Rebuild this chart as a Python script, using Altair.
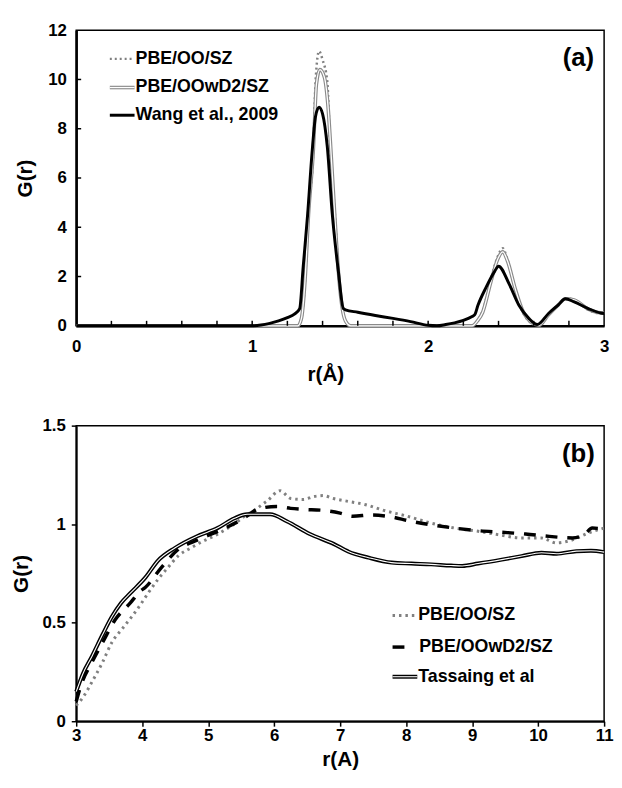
import altair as alt
import pandas as pd

# ---------------- Panel (a) data ----------------
A_R_DOT = [0, 1.26, 1.28, 1.30, 1.32, 1.348, 1.36, 1.38, 1.40, 1.427, 1.443, 1.47, 1.49, 1.51, 1.53, 1.56,
           2.25, 2.28, 2.31, 2.357, 2.395, 2.424, 2.45, 2.497, 2.535, 2.59, 2.63, 2.684, 2.74, 2.78, 2.83, 2.91, 2.96, 3.0]
A_G_DOT = [0, 0, 0.3, 1.8, 4.55, 7.26, 9.9, 11.15, 10.8, 9.9, 7.26, 4.55, 2.2, 0.8, 0.2, 0,
           0, 0.2, 0.6, 1.9, 2.8, 3.15, 2.7, 1.4, 0.6, 0.1, 0.0, 0.45, 0.85, 1.12, 1.05, 0.65, 0.52, 0.5]

A_R_DBL = [0, 1.26, 1.28, 1.30, 1.32, 1.348, 1.365, 1.385, 1.41, 1.43, 1.45, 1.47, 1.49, 1.51, 1.53, 1.56,
           2.25, 2.28, 2.31, 2.357, 2.395, 2.424, 2.45, 2.497, 2.535, 2.59, 2.63, 2.684, 2.74, 2.78, 2.83, 2.91, 2.96, 3.0]
A_G_DBL = [0, 0, 0.3, 1.8, 4.5, 7.2, 9.8, 10.4, 10.1, 9.0, 6.8, 4.4, 2.2, 0.8, 0.2, 0,
           0, 0.2, 0.55, 1.8, 2.7, 3.0, 2.65, 1.45, 0.65, 0.12, 0.02, 0.45, 0.85, 1.1, 1.05, 0.68, 0.55, 0.52]

A_R_WANG = [0, 1.0, 1.05, 1.1, 1.15, 1.2, 1.24, 1.27, 1.29, 1.315, 1.34, 1.36, 1.38, 1.40, 1.427, 1.455, 1.49,
            1.518, 1.53, 1.6, 1.7, 1.8, 1.9, 2.0, 2.05, 2.1, 2.15, 2.2, 2.25, 2.265, 2.283, 2.33, 2.377, 2.40,
            2.46, 2.516, 2.572, 2.62, 2.684, 2.74, 2.78, 2.83, 2.91, 2.98, 3.0]
A_G_WANG = [0, 0, 0.03, 0.1, 0.2, 0.33, 0.47, 0.7, 2.4, 4.5, 7.0, 8.5, 8.87, 8.6, 7.26, 4.55, 2.2,
            0.7, 0.65, 0.55, 0.42, 0.3, 0.17, 0.02, 0.0, 0.05, 0.12, 0.22, 0.38, 0.45, 0.83, 1.57, 2.2, 2.42,
            1.7, 0.83, 0.3, 0.05, 0.5, 0.85, 1.1, 0.97, 0.7, 0.52, 0.5]

A_LEGEND = ["PBE/OO/SZ", "PBE/OOwD2/SZ", "Wang et al., 2009"]
A_XTICKS = [0, 1, 2, 3]
A_MINOR = [0.2, 0.4, 0.6, 0.8, 1.0, 1.2, 1.4, 1.6, 1.8, 2.0, 2.2, 2.4, 2.6, 2.8]
A_YTICKS = [0, 2, 4, 6, 8, 10, 12]

# ---------------- Panel (b) data ----------------
B_R_DOT = [3.0, 3.1, 3.24, 3.4, 3.54, 3.7, 3.84, 3.95, 4.09, 4.24, 4.39, 4.55, 4.74, 4.9, 5.09, 5.25, 5.39, 5.55,
           5.74, 5.9, 6.09, 6.25, 6.44, 6.6, 6.74, 6.9, 7.13, 7.37, 7.66, 8.02, 8.38, 8.74, 9.09, 9.39, 9.75,
           10.05, 10.28, 10.52, 10.76, 11.0]
B_G_DOT = [0.08, 0.12, 0.2, 0.3, 0.4, 0.47, 0.53, 0.58, 0.65, 0.72, 0.78, 0.84, 0.88, 0.91, 0.94, 0.97, 1.0, 1.04,
           1.08, 1.12, 1.17, 1.13, 1.125, 1.14, 1.145, 1.13, 1.115, 1.1, 1.07, 1.04, 1.005, 0.98, 0.964, 0.947, 0.93,
           0.93, 0.905, 0.92, 0.955, 0.98]

B_R_DASH = [3.0, 3.07, 3.24, 3.4, 3.59, 3.82, 3.97, 4.05, 4.29, 4.54, 4.84, 5.19, 5.49, 5.79, 6.04, 6.25, 6.44,
            6.74, 7.0, 7.19, 7.48, 7.72, 8.08, 8.38, 8.74, 9.09, 9.45, 9.81, 10.17, 10.52, 10.7, 10.82, 11.0]
B_G_DASH = [0.1, 0.18, 0.3, 0.4, 0.515, 0.6, 0.66, 0.68, 0.78, 0.87, 0.92, 0.97, 1.02, 1.08, 1.09, 1.08, 1.075,
            1.07, 1.056, 1.04, 1.047, 1.04, 1.014, 0.997, 0.98, 0.967, 0.959, 0.95, 0.938, 0.93, 0.947, 0.98, 0.975]

B_R_TAS = [3.0, 3.1, 3.24, 3.4, 3.54, 3.68, 3.82, 4.05, 4.24, 4.5, 4.84, 5.14, 5.4, 5.59, 5.94, 6.19, 6.54, 6.9,
           7.13, 7.43, 7.78, 8.08, 8.38, 8.68, 8.85, 9.09, 9.45, 9.75, 10.05, 10.28, 10.58, 10.8, 11.0]
B_G_TAS = [0.15, 0.24, 0.33, 0.44, 0.53, 0.6, 0.65, 0.73, 0.815, 0.88, 0.94, 0.98, 1.03, 1.05, 1.05, 1.015, 0.95,
           0.9, 0.86, 0.83, 0.805, 0.8, 0.796, 0.79, 0.788, 0.8, 0.82, 0.838, 0.855, 0.85, 0.863, 0.865, 0.858]

B_LEGEND = ["PBE/OO/SZ", "PBE/OOwD2/SZ", "Tassaing et al"]
B_XTICKS = [3, 4, 5, 6, 7, 8, 9, 10, 11]
B_YTICKS = [0, 0.5, 1, 1.5]

W = 534
H = 299
FONT = "Liberation Sans"
GRAY = "#808080"
LEG_FS = 18


def df(r, g):
    return pd.DataFrame({"r": r, "g": g})


one = pd.DataFrame({"k": [0]})

# ---------------- Panel (a) ----------------
xa = alt.X("r:Q", scale=alt.Scale(domain=[0, 3], nice=False),
           axis=alt.Axis(values=A_XTICKS, ticks=False, labelPadding=13, title="r(Å)",
                         titlePadding=9, titleX=252, domainWidth=2.5))
ya = alt.Y("g:Q", scale=alt.Scale(domain=[0, 12], nice=False),
           axis=alt.Axis(values=A_YTICKS, ticks=False, labelPadding=10, title="G(r)",
                         titlePadding=12, domainWidth=2.5))

a_dot = alt.Chart(df(A_R_DOT, A_G_DOT)).mark_line(
    interpolate="monotone", color=GRAY, strokeWidth=2.5, strokeDash=[2, 3]).encode(x=xa, y=ya)
a_dbl_o = alt.Chart(df(A_R_DBL, A_G_DBL)).mark_line(
    interpolate="monotone", color="#8a8a8a", strokeWidth=3.6).encode(x=xa, y=ya)
a_dbl_i = alt.Chart(df(A_R_DBL, A_G_DBL)).mark_line(
    interpolate="monotone", color="white", strokeWidth=1.3).encode(x=xa, y=ya)
a_wang = alt.Chart(df(A_R_WANG, A_G_WANG)).mark_line(
    interpolate="monotone", color="black", strokeWidth=3).encode(x=xa, y=ya)

a_xt = alt.Chart(pd.DataFrame({"r": A_MINOR})).mark_rule(color="black", strokeWidth=1.5).encode(
    x=xa, y=alt.value(H), y2=alt.value(H - 5))
a_yt = alt.Chart(pd.DataFrame({"g": A_YTICKS[1:-1]})).mark_rule(color="black", strokeWidth=1.5).encode(
    y=ya, x=alt.value(0), x2=alt.value(5))

leg_a_y = [29, 58, 86]
la1 = alt.Chart(one).mark_rule(color=GRAY, strokeWidth=2.5, strokeDash=[2, 3]).encode(
    x=alt.value(34), x2=alt.value(59), y=alt.value(leg_a_y[0]))
la2o = alt.Chart(one).mark_rule(color="#8a8a8a", strokeWidth=3.6).encode(
    x=alt.value(34), x2=alt.value(59), y=alt.value(leg_a_y[1]))
la2i = alt.Chart(one).mark_rule(color="white", strokeWidth=1.3).encode(
    x=alt.value(34), x2=alt.value(59), y=alt.value(leg_a_y[1]))
la3 = alt.Chart(one).mark_rule(color="black", strokeWidth=3).encode(
    x=alt.value(34), x2=alt.value(59), y=alt.value(leg_a_y[2]))
la_txt = [alt.Chart(one).mark_text(align="left", baseline="middle", font=FONT, fontSize=LEG_FS,
                                   fontWeight="bold", color="black").encode(
    x=alt.value(60), y=alt.value(yy), text=alt.value(t)) for t, yy in zip(A_LEGEND, leg_a_y)]
a_lab = alt.Chart(one).mark_text(align="center", baseline="middle", font=FONT, fontSize=26,
                                 fontWeight="bold", color="black").encode(
    x=alt.value(508), y=alt.value(28), text=alt.value("(a)"))

panel_a = alt.layer(a_dot, a_dbl_o, a_dbl_i, a_wang, a_xt, a_yt, la1, la2o, la2i, la3,
                    *la_txt, a_lab).properties(width=W, height=H)

# ---------------- Panel (b) ----------------
xb = alt.X("r:Q", scale=alt.Scale(domain=[3, 11], nice=False),
           axis=alt.Axis(values=B_XTICKS, tickSize=5, labelPadding=2, title="r(A)",
                         titlePadding=5, domainWidth=2))
yb = alt.Y("g:Q", scale=alt.Scale(domain=[0, 1.5], nice=False),
           axis=alt.Axis(values=B_YTICKS, tickSize=5, labelPadding=6, format=".1~f", title="G(r)",
                         titlePadding=11, domainWidth=2))

b_dot = alt.Chart(df(B_R_DOT, B_G_DOT)).mark_line(
    interpolate="monotone", color=GRAY, strokeWidth=3, strokeDash=[2.5, 4]).encode(x=xb, y=yb)
b_dash = alt.Chart(df(B_R_DASH, B_G_DASH)).mark_line(
    interpolate="monotone", color="black", strokeWidth=3.5, strokeDash=[12, 10]).encode(x=xb, y=yb)
b_tas_o = alt.Chart(df(B_R_TAS, B_G_TAS)).mark_line(
    interpolate="monotone", color="black", strokeWidth=4).encode(x=xb, y=yb)
b_tas_i = alt.Chart(df(B_R_TAS, B_G_TAS)).mark_line(
    interpolate="monotone", color="white", strokeWidth=1.1).encode(x=xb, y=yb)

leg_b_y = [192, 224, 254]
lb1 = alt.Chart(one).mark_rule(color=GRAY, strokeWidth=3, strokeDash=[2.5, 4]).encode(
    x=alt.value(320), x2=alt.value(345), y=alt.value(leg_b_y[0]))
lb2 = alt.Chart(one).mark_rule(color="black", strokeWidth=3.5).encode(
    x=alt.value(320), x2=alt.value(332), y=alt.value(leg_b_y[1]))
lb3o = alt.Chart(one).mark_rule(color="black", strokeWidth=4).encode(
    x=alt.value(320), x2=alt.value(345), y=alt.value(leg_b_y[2]))
lb3i = alt.Chart(one).mark_rule(color="white", strokeWidth=1.1).encode(
    x=alt.value(320), x2=alt.value(345), y=alt.value(leg_b_y[2]))
lb_txt = [alt.Chart(one).mark_text(align="left", baseline="middle", font=FONT, fontSize=LEG_FS,
                                   fontWeight="bold", color="black").encode(
    x=alt.value(xx), y=alt.value(yy), text=alt.value(t))
    for t, yy, xx in zip(B_LEGEND, leg_b_y, [346, 347, 346])]
b_lab = alt.Chart(one).mark_text(align="center", baseline="middle", font=FONT, fontSize=26,
                                 fontWeight="bold", color="black").encode(
    x=alt.value(508), y=alt.value(29), text=alt.value("(b)"))

panel_b = alt.layer(b_dot, b_dash, b_tas_o, b_tas_i, lb1, lb2, lb3o, lb3i,
                    *lb_txt, b_lab).properties(width=W, height=H)

chart = alt.vconcat(panel_a, panel_b, spacing=31).properties(
    padding={"left": 1, "top": 8, "right": 0, "bottom": 5}
).configure_view(stroke="black", strokeWidth=1.5).configure_axis(
    labelFont=FONT, titleFont=FONT, labelFontSize=17, titleFontSize=21,
    labelFontWeight="bold", titleFontWeight="bold", labelColor="black", titleColor="black",
    domainColor="black", tickColor="black", tickWidth=1.5, grid=False, labelFlush=False,
    labelOverlap=False
)

chart.save("out.html", embed_options={"renderer": "svg", "actions": False})
